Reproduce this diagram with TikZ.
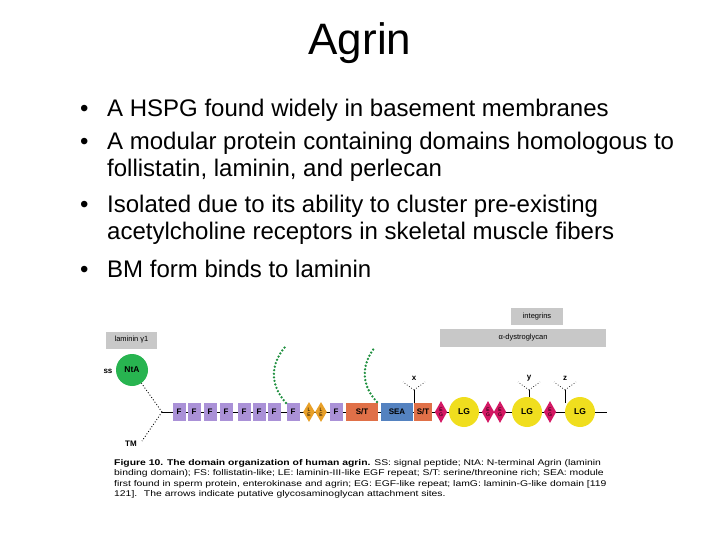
\documentclass[tikz,border=0pt]{standalone}
\usepackage{fontspec}
\setmainfont{Liberation Sans}
\newfontfamily\capfont[FakeStretch=1.25]{Liberation Sans}
\usetikzlibrary{shapes.geometric}
\definecolor{fpur}{RGB}{170,145,215}
\definecolor{leor}{RGB}{232,160,40}
\definecolor{stor}{RGB}{224,112,72}
\definecolor{seab}{RGB}{84,130,192}
\definecolor{egm}{RGB}{212,24,100}
\definecolor{lgy}{RGB}{240,222,30}
\definecolor{nta}{RGB}{40,180,80}
\definecolor{gbox}{RGB}{200,200,200}
\tikzset{
 bul/.style={anchor=base west,inner sep=0,font=\fontsize{24}{28}\selectfont},
 fbox/.style={fill=fpur,minimum width=13pt,minimum height=18pt,inner sep=0,font=\fontsize{8}{8}\selectfont\bfseries},
 le/.style={diamond,fill=leor,minimum width=11pt,minimum height=20pt,inner sep=0,align=center,font=\fontsize{5}{5}\selectfont},
 eg/.style={diamond,fill=egm,minimum width=11pt,minimum height=22pt,inner sep=0,align=center,font=\fontsize{5}{5}\selectfont},
 lg/.style={circle,fill=lgy,minimum size=30pt,inner sep=0,font=\fontsize{8.5}{8}\selectfont\bfseries},
 rbox/.style={minimum height=18pt,inner sep=0,font=\fontsize{8}{8}\selectfont\bfseries},
 gb/.style={fill=gbox,minimum height=17pt,inner sep=0,font=\fontsize{7.5}{8}\selectfont},
 dl/.style={dotted,line width=0.9pt},
 gag/.style={line width=2.6pt,color=nta!80!black,line cap=round,dash pattern=on 0pt off 3.6pt},
 captxt/.style={anchor=base west,inner sep=0,font=\capfont\fontsize{8.3}{9}\selectfont}
}
\begin{document}
\begin{tikzpicture}[x=1pt,y=-1pt]
\useasboundingbox (0,0) rectangle (720,540);
\node[font=\fontsize{44}{48}\selectfont,anchor=base,inner sep=0] (title) at (360,55) {Agrin};
\node[bul] (b1) at (80,117) {•};
\node[bul] (t1) at (107,117) {A HSPG found widely in basement membranes};
\node[bul] (b2) at (80,150) {•};
\node[bul] (t2) at (107,150) {A modular protein containing domains homologous to};
\node[bul] (t2b) at (107,177) {follistatin, laminin, and perlecan};
\node[bul] (b3) at (80,213) {•};
\node[bul] (t3) at (107,213) {Isolated due to its ability to cluster pre-existing};
\node[bul] (t3b) at (107,240) {acetylcholine receptors in skeletal muscle fibers};
\node[bul] (b4) at (80,277) {•};
\node[bul] (t4) at (107,277) {BM form binds to laminin};
% grey boxes
\node[gb,minimum width=51pt] (lam) at (131.5,340) {laminin γ1};
\node[gb,minimum width=52pt] (int) at (537,316.5) {integrins};
\node[gb,minimum width=166pt,minimum height=18pt] (dg) at (523,338) {α-dystroglycan};
% backbone
\coordinate (br) at (162,412);
\coordinate (end) at (607,412);
\draw[line width=1pt] (br) -- (end);
\node[circle,fill=nta,minimum size=32pt,inner sep=0,font=\fontsize{8.5}{8}\selectfont\bfseries] (nt) at (132,370) {NtA};
\node[font=\fontsize{8}{8}\selectfont\bfseries,inner sep=0] (ss) at (108,371) {ss};
\node[font=\fontsize{8}{8}\selectfont\bfseries,inner sep=0] (tm) at (131,444) {TM};
\coordinate (tme) at (142,441);
\draw[dl] (br) -- (nt);
\draw[dl] (br) -- (tme);
\foreach \i/\x in {1/179,2/194,3/210,4/226,5/244,6/259,7/274,8/293,9/336}{\node[fbox] (f\i) at (\x,412) {F};}
\node[le] (le1) at (309,412) {L\\E};
\node[le] (le2) at (321,412) {L\\E};
\node[rbox,fill=stor,minimum width=32pt] (st1) at (362,412) {S/T};
\node[rbox,fill=seab,minimum width=32pt] (sea) at (397,412) {SEA};
\node[rbox,fill=stor,minimum width=18pt] (st2) at (423,412) {S/T};
\node[eg] (eg1) at (441,412) {E\\G};
\node[lg] (lg1) at (464,412) {LG};
\node[eg] (eg2) at (488,412) {E\\G};
\node[eg] (eg3) at (500,412) {E\\G};
\node[lg] (lg2) at (527,412) {LG};
\node[eg] (eg4) at (550,412) {E\\G};
\node[lg] (lg3) at (580,412) {LG};
% markers
\foreach \n/\x/\b/\t in {x/414/403/390,y/529/397/390,z/565/403/390}{
 \coordinate (\n b) at (\x,\b); \coordinate (\n t) at (\x,\t);
 \coordinate (\n l) at (\x-11,\t-8); \coordinate (\n r) at (\x+11,\t-8);
 \draw[line width=1pt] (\n b) -- (\n t);
 \draw[dl,line width=0.7pt] (\n t) -- (\n l);
 \draw[dl,line width=0.7pt] (\n t) -- (\n r);
 \node[font=\fontsize{8}{8}\selectfont\bfseries,inner sep=0] (lab\n) at (\x,\t-12) {\n};
}
% GAG chains
\coordinate (g1a) at (286,403); \coordinate (g1b) at (285,347);
\coordinate (g2a) at (377,402); \coordinate (g2b) at (375,347);
\draw[gag] (g1a) .. controls (270,385) and (270,365) .. (g1b);
\draw[gag] (g2a) .. controls (361,385) and (361,365) .. (g2b);
% caption
\node[captxt] (c1) at (114,465) {\textbf{Figure 10. The domain organization of human agrin.} SS: signal peptide; NtA: N-terminal Agrin (laminin};
\node[captxt] (c2) at (114,475.5) {binding domain); FS: follistatin-like; LE: laminin-III-like EGF repeat; S/T: serine/threonine rich; SEA: module};
\node[captxt] (c3) at (114,486) {first found in sperm protein, enterokinase and agrin; EG: EGF-like repeat; lamG: laminin-G-like domain [119};
\node[captxt] (c4) at (114,496.5) {121]. \ The arrows indicate putative glycosaminoglycan attachment sites.};
\end{tikzpicture}
\end{document}
